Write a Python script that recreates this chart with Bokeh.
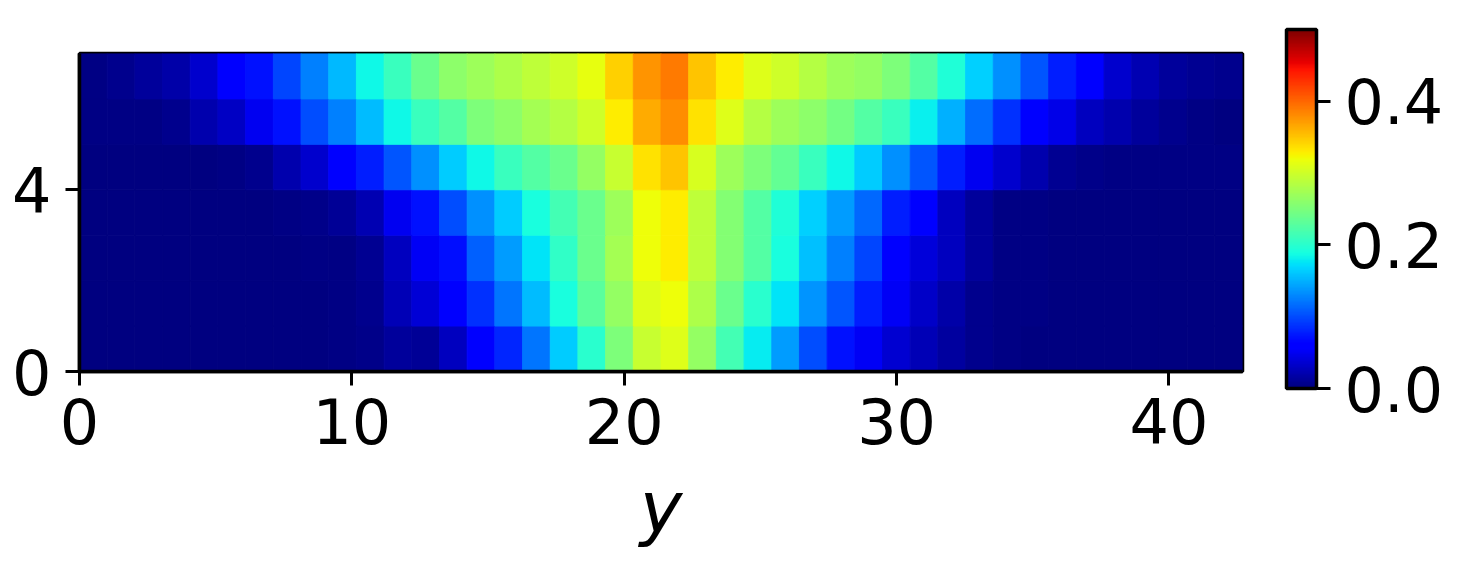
from bokeh.embed import file_html
from bokeh.resources import INLINE
from bokeh.plotting import figure
from bokeh.models import ColumnDataSource, LinearColorMapper, ColorBar, FixedTicker, NumeralTickFormatter
import numpy as np

# Cell values, one list per row (row_0 is the bottom row), 42 columns
row_0 = [.001,.001,.001,.001,.001,.001,.001,.001,.001,.002,.005,.012,.010,.028,.060,.082,.121,.163,.200,.250,.295,.310,.265,.215,.178,.139,.100,.072,.052,.036,.025,.015,.006,.002,.001,.001,.001,.001,.001,.001,.001,.001]
row_1 = [.001,.001,.001,.001,.001,.001,.001,.001,.001,.002,.006,.024,.038,.060,.087,.121,.156,.190,.230,.265,.310,.320,.280,.240,.200,.175,.136,.104,.078,.052,.033,.018,.006,.002,.002,.001,.001,.001,.001,.001,.001,.001]
row_2 = [.001,.001,.001,.001,.001,.001,.001,.001,.002,.003,.008,.028,.052,.070,.110,.139,.175,.205,.240,.275,.320,.330,.290,.255,.225,.190,.158,.125,.097,.060,.040,.028,.012,.003,.002,.001,.001,.001,.001,.001,.001,.001]
row_3 = [.001,.001,.001,.001,.001,.001,.001,.002,.004,.010,.022,.050,.072,.100,.134,.163,.190,.215,.240,.270,.320,.330,.290,.255,.225,.195,.166,.139,.114,.078,.060,.028,.012,.003,.002,.001,.001,.001,.001,.001,.001,.001]
row_4 = [.001,.001,.001,.001,.001,.003,.006,.020,.035,.060,.078,.104,.134,.163,.185,.210,.225,.240,.265,.295,.335,.350,.305,.270,.250,.235,.210,.185,.163,.134,.104,.078,.050,.035,.020,.008,.005,.002,.002,.002,.002,.002]
row_5 = [.002,.002,.003,.006,.020,.030,.050,.072,.100,.125,.156,.185,.210,.225,.250,.260,.275,.285,.300,.330,.365,.380,.335,.310,.285,.270,.260,.245,.225,.210,.180,.150,.117,.087,.060,.045,.028,.020,.012,.006,.002,.001]
row_6 = [.003,.006,.012,.018,.035,.060,.072,.097,.125,.153,.185,.210,.240,.260,.270,.280,.290,.300,.315,.345,.375,.390,.350,.330,.310,.300,.285,.270,.265,.250,.225,.195,.166,.134,.104,.078,.060,.035,.022,.012,.009,.006]
rows = [row_0, row_1, row_2, row_3, row_4, row_5, row_6]

x_ticks = [0, 10, 20, 30, 40]
y_ticks = [0, 4]
bar_ticks = [0.0, 0.2, 0.4]
x_end = 42.7
FONT = "DejaVu Sans"
LABEL_SIZE = "62px"


def jet(t):
    r = np.interp(t, [0, 0.35, 0.66, 0.89, 1], [0, 0, 1, 1, 0.5])
    g = np.interp(t, [0, 0.125, 0.375, 0.64, 0.91, 1], [0, 0, 1, 1, 0, 0])
    b = np.interp(t, [0, 0.11, 0.34, 0.65, 1], [0.5, 1, 1, 0, 0])
    return "#%02x%02x%02x" % (round(r * 255), round(g * 255), round(b * 255))


palette = [jet(i / 255) for i in range(256)]
mapper = LinearColorMapper(palette=palette, low=0, high=0.5)

step = x_end / len(row_0)
left, right, bottom, top, val = [], [], [], [], []
for j, row in enumerate(rows):
    for i, v in enumerate(row):
        left.append(i * step)
        right.append((i + 1) * step)
        bottom.append(j)
        top.append(j + 1)
        val.append(v)
src = ColumnDataSource(dict(left=left, right=right, bottom=bottom, top=top, val=val))

p = figure(width=1466, height=572, frame_width=1163, frame_height=318,
           x_range=(0, x_end), y_range=(0, 7),
           output_backend="svg", toolbar_location=None,
           min_border_left=79, min_border_right=224, min_border_top=53, min_border_bottom=201)
p.quad(left="left", right="right", bottom="bottom", top="top", source=src,
       fill_color={"field": "val", "transform": mapper},
       line_color={"field": "val", "transform": mapper}, line_width=0.9)

p.grid.visible = False
p.outline_line_color = "black"
p.outline_line_width = 3.5
p.outline_line_alpha = 1

for ax in (p.xaxis[0], p.yaxis[0]):
    ax.axis_line_color = "black"
    ax.axis_line_width = 3.5
    ax.major_tick_line_color = "black"
    ax.major_tick_line_width = 3
    ax.major_tick_out = 14
    ax.major_tick_in = 0
    ax.minor_tick_line_color = None
    ax.major_label_text_font = FONT
    ax.major_label_text_font_size = LABEL_SIZE
    ax.major_label_text_color = "black"

p.xaxis[0].ticker = FixedTicker(ticks=x_ticks)
p.yaxis[0].ticker = FixedTicker(ticks=y_ticks)
p.yaxis[0].major_label_orientation = "horizontal"
p.xaxis[0].major_label_standoff = 12
p.yaxis[0].major_label_standoff = 14
p.xaxis[0].axis_label = "y"
p.xaxis[0].axis_label_text_font = FONT
p.xaxis[0].axis_label_text_font_style = "italic"
p.xaxis[0].axis_label_text_font_size = "72px"
p.xaxis[0].axis_label_text_color = "black"
p.xaxis[0].axis_label_standoff = 18

cb = ColorBar(color_mapper=mapper, ticker=FixedTicker(ticks=bar_ticks),
              formatter=NumeralTickFormatter(format="0.0"),
              location=(1207, -17), width=30, height=359, padding=0, margin=0,
              bar_line_color="black", bar_line_width=3.5,
              major_tick_line_color="black", major_tick_line_width=3,
              major_tick_in=0, major_tick_out=14, minor_tick_line_color=None,
              major_label_text_font=FONT, major_label_text_font_size=LABEL_SIZE,
              major_label_text_color="black", label_standoff=14,
              background_fill_alpha=0, border_line_color=None)
p.add_layout(cb)

open("out.html", "w").write(file_html(p, INLINE))
